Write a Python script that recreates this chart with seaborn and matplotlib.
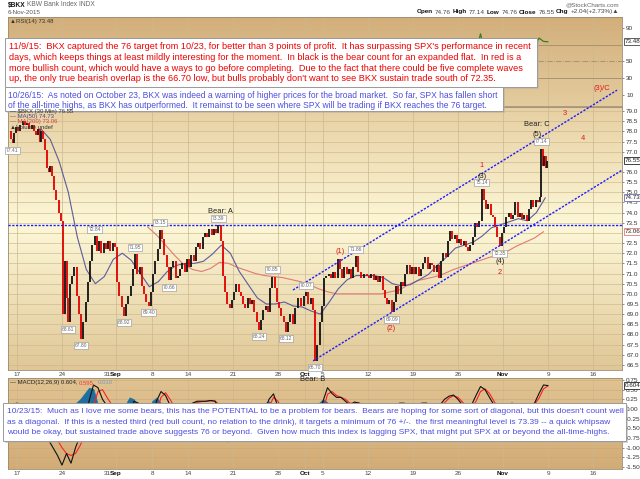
import numpy as np
import matplotlib
matplotlib.use("Agg")
import matplotlib.pyplot as plt
import matplotlib.transforms as mtransforms
from matplotlib.patches import Rectangle
import seaborn as sns

# ---------------- data ----------------
# trading-day index: 0 = Mon 17 Aug 2015 (Labor Day skipped), -1 = Fri 14 Aug
price_day_index = list(range(-1, 59))
price_bars = [
    [78.0, 77.6, 77.41, 77.9, 78.2],          # Aug 14
    [78.0, 78.3, 78.5, 78.3],                 # Aug 17
    [78.4, 78.1, 78.3, 78.0],                 # Aug 18
    [77.8, 78.1, 77.5, 78.0, 77.6],           # Aug 19
    [77.1, 76.2, 76.0, 76.3, 75.8],           # Aug 20
    [75.1, 74.6, 74.0, 73.6],                 # Aug 21
    [69.0, 71.6, 69.8, 68.61, 70.5],          # Aug 24
    [70.9, 71.3, 69.9, 69.0],                 # Aug 25
    [67.80, 68.6, 69.6, 70.6],                # Aug 26
    [71.6, 72.4, 72.84, 72.1],                # Aug 27
    [72.6, 72.0, 72.5, 72.2],                 # Aug 28
    [72.6, 72.1, 72.5, 72.3],                 # Aug 31
    [70.6, 69.9, 69.35, 68.92],               # Sep 1
    [69.5, 69.9, 70.4, 71.2],                 # Sep 2
    [71.95, 71.0, 71.3, 70.4],                # Sep 3
    [70.0, 69.6, 69.40, 70.1],                # Sep 4
    [71.0, 71.6, 72.2, 73.15],                # Sep 8
    [72.7, 71.9, 71.3, 70.66],                # Sep 9
    [71.3, 71.6, 70.8, 70.9],                 # Sep 10
    [71.2, 71.5, 71.1, 71.7],                 # Sep 11
    [71.3, 71.9, 71.6, 72.3],                 # Sep 14
    [72.5, 72.2, 72.8, 73.0],                 # Sep 15
    [72.8, 73.2, 72.9, 73.2],                 # Sep 16
    [73.0, 73.39, 72.6, 70.9],                # Sep 17
    [70.1, 69.5, 69.3, 69.7],                 # Sep 18
    [70.1, 70.5, 70.1, 69.9],                 # Sep 21
    [69.5, 69.3, 69.8, 69.5],                 # Sep 22
    [69.7, 69.1, 68.6, 68.24],                # Sep 23
    [68.7, 69.2, 69.4, 69.1],                 # Sep 24
    [70.3, 70.85, 70.3, 69.6],                # Sep 25
    [69.3, 68.9, 68.6, 68.12],                # Sep 28
    [68.6, 69.0, 68.5, 69.3],                 # Sep 29
    [69.8, 69.4, 69.9],                       # Sep 30
    [70.07, 69.5, 69.8, 69.2],                # Oct 1
    [66.70, 67.5, 68.6, 69.4],                # Oct 2
    [70.8, 70.9, 71.0, 70.8],                 # Oct 5
    [71.1, 70.8, 71.7, 71.2],                 # Oct 6
    [70.8, 71.3, 71.0, 71.2],                 # Oct 7
    [70.8, 71.3, 71.86, 71.1],                # Oct 8
    [70.8, 71.0, 70.9],                       # Oct 9
    [70.8, 71.0, 70.7, 70.9],                 # Oct 12
    [70.6, 70.9, 70.2, 69.8],                 # Oct 13
    [69.5, 69.7, 69.09, 69.6],                # Oct 14
    [70.4, 70.0, 70.6, 70.4],                 # Oct 15
    [71.0, 71.4, 71.0, 71.3],                 # Oct 16
    [71.0, 71.3, 70.9, 71.2],                 # Oct 19
    [71.5, 71.8, 71.2, 71.5],                 # Oct 20
    [71.4, 71.1, 71.4, 70.8],                 # Oct 21
    [71.6, 72.0, 71.8, 72.6],                 # Oct 22
    [73.1, 72.7, 72.9, 72.5],                 # Oct 23
    [72.7, 72.4, 72.6, 72.3],                 # Oct 26
    [72.1, 72.4, 72.8, 73.5],                 # Oct 27
    [73.3, 73.6, 75.14, 74.6],                # Oct 28
    [74.2, 74.4, 73.9, 73.8],                 # Oct 29
    [73.3, 72.8, 72.35, 73.0],                # Oct 30
    [73.3, 73.8, 74.0, 73.7],                 # Nov 2
    [73.9, 74.5, 73.8, 74.0],                 # Nov 3
    [73.7, 73.9, 73.6, 74.2],                 # Nov 4
    [74.6, 74.3, 74.6, 74.51],                # Nov 5
    [74.76, 77.14, 76.3, 76.8, 76.2, 76.55],  # Nov 6
]
pivot_values = [77.41, 68.61, 67.80, 72.84, 68.92, 71.95, 69.40, 73.15, 70.66, 73.39,
                68.24, 70.85, 68.12, 70.07, 66.70, 71.86, 69.09, 75.14, 72.35, 77.14]
pivot_kinds = ["L", "L", "L", "H", "L", "H", "L", "H", "L", "H",
               "L", "H", "L", "H", "L", "H", "L", "H", "L", "H"]

ma50_start = 2.7
ma50 = [78.1, 77.6, 76.5, 75.0, 72.8, 71.2, 70.5, 70.85, 71.7, 72.0,
        71.65, 71.0, 70.35, 70.6, 71.1, 71.4, 71.5, 71.5, 71.6, 71.95,
        72.4, 72.0, 71.1, 70.45, 69.8, 69.5, 69.5, 69.6, 69.4, 69.35,
        69.15, 69.0, 69.6, 70.25, 70.7, 70.9, 70.9, 70.9, 70.8, 70.5,
        70.4, 70.45, 70.7, 70.95, 71.4, 71.8, 72.25, 72.4, 72.55, 72.85,
        73.25, 73.4, 73.55, 73.7, 73.6, 74.0, 74.73]
ma200_start = 14.5
ma200 = [73.3, 72.9, 72.4, 71.9, 71.45, 71.2, 71.1, 71.25, 71.55, 71.5,
         71.3, 71.15, 71.0, 70.9, 70.85, 70.8, 70.7, 70.6, 70.45, 70.25,
         70.1, 70.0, 70.0, 70.0, 70.0, 70.0, 70.0, 70.1, 70.2, 70.45,
         70.65, 70.75, 70.85, 71.0, 71.2, 71.35, 71.5, 71.65, 71.8, 71.9,
         72.1, 72.35, 72.55, 72.75, 73.06]

macd_start = -1.0
macd_line = [0.10, 0.12, 0.15, 0.12, 0.10, 0.08, 0.05, 0.00, -0.30, -0.80,
             -1.00, -1.20, -1.45, -1.15, -1.40, -1.00, -0.70, -0.30, 0.20, 0.62,
             0.55, 0.25, 0.08, 0.00, -0.55, -0.78, -0.50, -0.10, 0.20, 0.15,
             -0.30, -0.50, -0.20, 0.20, 0.45, 0.35, 0.10, -0.10, -0.05, 0.05,
             0.10, 0.15, 0.20, 0.20, 0.20, 0.22, 0.20, 0.00, -0.60, -0.85,
             -0.50, -0.30, -0.20, -0.25, -0.35, -0.45, -0.30, -0.05, 0.25, 0.39,
             0.05, -0.20, -0.30, -0.25, -0.10, 0.00, -0.10, -0.50, -0.70, -0.30,
             0.20, 0.55, 0.40, 0.30, 0.30, 0.20, 0.10, 0.18, 0.15, 0.05,
             0.00, -0.05, -0.10, -0.30, -0.40, -0.20, 0.05, 0.15, 0.15, 0.10,
             0.10, 0.12, 0.15, 0.15, 0.00, -0.05, 0.10, 0.25, 0.33, 0.36,
             0.25, 0.10, -0.05, 0.10, 0.35, 0.58, 0.50, 0.30, 0.10, -0.10,
             -0.05, 0.10, 0.15, 0.10, 0.10, 0.05, 0.10, 0.15, 0.40, 0.62,
             0.604]
macd_signal = [0.12, 0.12, 0.13, 0.13, 0.12, 0.11, 0.09, 0.06, -0.05, -0.30,
               -0.55, -0.80, -1.00, -1.15, -1.20, -1.15, -0.95, -0.70, -0.35, 0.10,
               0.45, 0.50, 0.30, 0.12, -0.15, -0.50, -0.60, -0.40, -0.05, 0.12,
               0.00, -0.30, -0.40, -0.10, 0.30, 0.42, 0.25, 0.05, -0.05, 0.00,
               0.06, 0.12, 0.17, 0.19, 0.20, 0.21, 0.21, 0.10, -0.25, -0.60,
               -0.62, -0.45, -0.30, -0.25, -0.30, -0.40, -0.38, -0.20, 0.05, 0.30,
               0.20, -0.05, -0.22, -0.25, -0.18, -0.06, -0.08, -0.30, -0.55, -0.45,
               -0.05, 0.38, 0.45, 0.35, 0.30, 0.25, 0.15, 0.15, 0.16, 0.10,
               0.03, -0.02, -0.07, -0.20, -0.33, -0.28, -0.08, 0.08, 0.14, 0.12,
               0.10, 0.11, 0.13, 0.15, 0.06, -0.02, 0.03, 0.16, 0.28, 0.34,
               0.30, 0.18, 0.03, 0.03, 0.20, 0.45, 0.52, 0.40, 0.20, 0.00,
               -0.06, 0.03, 0.12, 0.12, 0.10, 0.07, 0.08, 0.12, 0.28, 0.52,
               0.595]
rsi_start = 50.0
rsi_values = [45, 55, 62, 83, 60, 52, 38, 35, 55, 60, 65, 58, 60, 58, 62, 64, 78, 74, 73.48]

tick_days = [0, 5, 10, 11, 15, 19, 24, 29, 32, 34, 39, 44, 49, 54, 59, 64]
tick_labels = ["17", "24", "31", "Sep", "8", "14", "21", "28", "Oct", "5",
               "12", "19", "26", "Nov", "9", "16"]
grid_days = [0, 5, 11, 15, 19, 24, 29, 32, 34, 39, 44, 49, 54, 59, 64]
month_labels = ["Sep", "Oct", "Nov"]

resistance_level = 73.39
upper_channel_days = [30.67, 66.67]
upper_channel_prices = [70.19, 80.03]
lower_channel_days = [32.9, 67.22]
lower_channel_prices = [66.70, 76.09]

wave_texts = ["Bear: A", "(1)", "(2)", "1", "(3)", "2", "(4)", "Bear: C", "(5)",
              "3", "4", "(3)/C", "Bear: B"]
wave_days = [22.6, 35.9, 41.6, 51.6, 51.7, 53.6, 53.7, 57.8, 57.8, 60.9, 62.9, 65.0, 32.9]
wave_prices = [74.03, 72.1, 68.3, 76.3, 75.78, 71.05, 71.6, 78.33, 77.83, 78.9, 77.67, 80.13, 65.8]
wave_red = [False, True, True, True, False, True, False, False, False, True, True, True, False]

note_1109 = [
    "11/9/15:  BKX captured the 76 target from 10/23, for better than 3 points of profit.  It has surpassing SPX's performance in recent",
    "days, which keeps things at least mildly interesting for the moment.  In black is the bear count for an expanded flat.  In red is a",
    "more bullish count, which would have a ways to go before completing.  Due to the fact that there could be five complete waves",
    "up, the only true bearish overlap is the 66.70 low, but bulls probably don't want to see BKX sustain trade south of 72.35.",
]
note_1026 = [
    "10/26/15:  As noted on October 23, BKX was indeed a warning of higher prices for the broad market.  So far, SPX has fallen short",
    "of the all-time highs, as BKX has outperformed.  It remainst to be seen where SPX will be trading if BKX reaches the 76 target.",
]
note_1023 = [
    "10/23/15:  Much as I love me some bears, this has the POTENTIAL to be a problem for bears.  Bears are hoping for some sort of diagonal, but this doesn't count well",
    "as a diagonal.  If this is a nested third (red bull count, no relation to the drink), it targets a minimum of 76 +/-.  the first meaningful level is 73.39 -- a quick whipsaw",
    "would be okay, but sustained trade above suggests 76 or beyond.  Given how much this index is lagging SPX, that might put SPX at or beyond the all-time-highs.",
]

# ---------------- figure ----------------
sns.set_theme(style="white")
plt.rcParams['font.family'] = ['Liberation Sans', 'DejaVu Sans']

W, H = 640, 479
fig = plt.figure(figsize=(6.4, 4.79), dpi=100, facecolor="white")
renderer = fig.canvas.get_renderer()


def fx(px):
    return px / W


def fy(py):
    return 1 - py / H


X0, X1 = 8, 622
XMIN, XMAX = -1.0, 67.22
ax_rsi = fig.add_axes([fx(X0), fy(106), (X1 - X0) / W, (106 - 17) / H])
ax_p = fig.add_axes([fx(X0), fy(370), (X1 - X0) / W, (370 - 107) / H])
ax_m = fig.add_axes([fx(X0), fy(469), (X1 - X0) / W, (469 - 378) / H])

RSI_LIM = (-3.1, 103.1)
P_LIM = (66.25, 79.2)
M_LIM = (-1.55, 0.80)


def gradient(ax, stops, ylim):
    ys = np.linspace(0, 1, 200)
    pos = [s[0] for s in stops]
    cols = np.array([s[1] for s in stops], dtype=float) / 255
    img = np.stack([np.interp(ys, pos, cols[:, k]) for k in range(3)], axis=-1)[:, None, :]
    ax.imshow(img, extent=(XMIN, XMAX, ylim[0], ylim[1]), origin="lower",
              aspect="auto", zorder=0, interpolation="bilinear")
    ax.set_xlim(XMIN, XMAX)
    ax.set_ylim(*ylim)


gradient(ax_rsi, [(0, (228, 204, 158)), (1, (210, 174, 122))], RSI_LIM)
gradient(ax_p, [(0, (224, 199, 150)), (0.55, (253, 248, 216)), (1, (231, 208, 162))], P_LIM)
gradient(ax_m, [(0, (211, 172, 118)), (1, (224, 195, 146))], M_LIM)

grid_c = (0.80, 0.72, 0.56)
for ax, lim in [(ax_rsi, RSI_LIM), (ax_p, P_LIM), (ax_m, M_LIM)]:
    ax.vlines(grid_days, lim[0], lim[1], color=grid_c, lw=0.5, zorder=1)
    for sp in ax.spines.values():
        sp.set_color("#9c8a6c")
        sp.set_linewidth(0.6)
    ax.yaxis.tick_right()
    ax.tick_params(axis="y", labelsize=4.6, colors="#333333", pad=1.5, length=1.5, width=0.4)
    ax.tick_params(axis="x", labelsize=4.6, colors="#444444", pad=1.2, length=0)

# ---- RSI panel ----
ax_rsi.hlines([70, 30], XMIN, XMAX, color=(0.62, 0.55, 0.42), lw=0.6, zorder=1)
ax_rsi.hlines([50], XMIN, XMAX, color=(0.62, 0.55, 0.42), lw=0.6, ls="-.", zorder=1)
rsi_days = rsi_start + 0.5 * np.arange(len(rsi_values))
sns.lineplot(x=rsi_days, y=rsi_values, ax=ax_rsi, color="#3b7a26", lw=0.9, zorder=3, legend=False)
ax_rsi.set_yticks([10, 30, 50, 90])
ax_rsi.set_yticklabels(["10", "30", "50", "90"])
ax_rsi.set_xticks([])
ax_rsi.set_xlim(XMIN, XMAX)
ax_rsi.set_ylim(*RSI_LIM)

# ---- price panel ----
hl = np.arange(66.5, 79.51, 0.5)
ax_p.hlines(hl, XMIN, XMAX, color=grid_c, lw=0.45, zorder=1)

xs, ps = [], []
for d, vals in zip(price_day_index, price_bars):
    n = len(vals)
    for j, v in enumerate(vals):
        xs.append(d + (j + 0.5) / n)
        ps.append(v)
xs = np.array(xs)
ps = np.array(ps)

ma50_days = ma50_start + np.arange(len(ma50))
ma200_days = ma200_start + np.arange(len(ma200))
sns.lineplot(x=ma200_days, y=ma200, ax=ax_p, color="#e07a74", lw=0.8, zorder=3, legend=False)
sns.lineplot(x=ma50_days, y=ma50, ax=ax_p, color="#5c5c9c", lw=0.8, zorder=3, legend=False)

lo = np.minimum(ps[:-1], ps[1:])
hi = np.maximum(ps[:-1], ps[1:])
cols = np.where(ps[1:] >= ps[:-1], "#111111", "#e00000")
ax_p.vlines(xs[1:], lo, hi, colors=cols, lw=1.3, zorder=4)

line_kw = dict(color="#1c1cff", lw=1.0, dashes=(1.6, 1.1), zorder=5, clip_on=False)
ax_p.plot([XMIN, XMAX], [resistance_level, resistance_level], **dict(line_kw, clip_on=True))
ax_p.plot(upper_channel_days, upper_channel_prices, **line_kw)
ax_p.plot(lower_channel_days, lower_channel_prices, **dict(line_kw, clip_on=True))

for v, k in zip(pivot_values, pivot_kinds):
    i = int(np.argmax(np.isclose(ps, v)))
    ax_p.annotate(f"{v:.2f}", (xs[i], v), xytext=(0, 3.2 if k == "H" else -3.2),
                  textcoords="offset points", ha="center",
                  va="bottom" if k == "H" else "top", fontsize=3.6, color="#666666",
                  bbox=dict(boxstyle="square,pad=0.2", fc="white", ec="#a0a0a0", lw=0.5),
                  zorder=6)

boxed_price = [76.55, 74.73, 73.06]
pticks = [t for t in np.arange(66.5, 79.01, 0.5) if all(abs(t - b) > 0.2 for b in boxed_price)]
ax_p.set_yticks(pticks)
ax_p.set_yticklabels([f"{t:.1f}" for t in pticks])
ax_p.set_xticks(tick_days)
ax_p.set_xticklabels(tick_labels)
ax_p.set_xlim(XMIN, XMAX)
ax_p.set_ylim(*P_LIM)

# ---- MACD panel ----
ax_m.hlines(np.arange(-1.5, 0.76, 0.25), XMIN, XMAX, color=(0.78, 0.66, 0.48), lw=0.4, zorder=1)
mdays = macd_start + 0.5 * np.arange(len(macd_line))
hist = np.array(macd_line) - np.array(macd_signal)
ax_m.fill_between(mdays, 0, hist, color="#1f6f9e", lw=0.4, zorder=2)
sns.lineplot(x=mdays, y=macd_signal, ax=ax_m, color="#ff2020", lw=0.8, zorder=3, legend=False)
sns.lineplot(x=mdays, y=macd_line, ax=ax_m, color="#111111", lw=0.8, zorder=4, legend=False)
mticks = [0.75, 0.50, 0.25, 0.0, -0.25, -0.50, -0.75, -1.00, -1.25, -1.50]
ax_m.set_yticks(mticks)
ax_m.set_yticklabels([f"{t:.2f}" for t in mticks])
ax_m.set_xticks(tick_days)
ax_m.set_xticklabels(tick_labels)
ax_m.set_xlim(XMIN, XMAX)
ax_m.set_ylim(*M_LIM)

for ax in (ax_p, ax_m):
    for lab in ax.get_xticklabels():
        if lab.get_text() in month_labels:
            lab.set_fontweight("bold")
            lab.set_color("#111111")


# boxed current values on the right axes
def value_box(ax, v, text, ec):
    tr = mtransforms.blended_transform_factory(ax.transAxes, ax.transData)
    ax.text(1.004, v, text, transform=tr, ha="left", va="center", fontsize=4.5,
            color="#222222", clip_on=False, zorder=7,
            bbox=dict(boxstyle="square,pad=0.15", fc="white", ec=ec, lw=0.6))


value_box(ax_p, 76.55, "76.55", "#222222")
value_box(ax_p, 74.73, "74.73", "#6c6cae")
value_box(ax_p, 73.06, "73.06", "#e07a74")
value_box(ax_rsi, 73.48, "73.48", "#444444")
value_box(ax_m, 0.604, "0.604", "#222222")

# wave labels (figure-level so they may sit outside the panel)
for s, d, p, red in zip(wave_texts, wave_days, wave_prices, wave_red):
    fig.text(d, p, s, transform=ax_p.transData, ha="center", va="center",
             fontsize=5.4, color="#e01818" if red else "#222222", zorder=3)


# ---------------- text runs helper ----------------
def draw_runs(x_px, y_px, parts, size, align="left"):
    sp = 0.28 * size * 100 / 72
    objs = []
    x = 0.0
    for k, (s, c, wgt) in enumerate(parts):
        if k > 0:
            x += sp
        t = fig.text(0, fy(y_px), s, fontsize=size, color=c, fontweight=wgt,
                     va="center", ha="left", zorder=4)
        w = t.get_window_extent(renderer).width
        objs.append((t, x))
        x += w
    start = x_px if align == "left" else x_px - x
    for t, off in objs:
        t.set_x((start + off) / W)


# header
draw_runs(8, 5, [("$BKX", "#111111", "bold"), ("KBW Bank Index INDX", "#666666", "normal")], 4.8)
draw_runs(8, 12, [("6-Nov-2015", "#555555", "normal")], 4.5)
draw_runs(619, 5, [("@StockCharts.com", "#666666", "normal")], 4.5, align="right")
draw_runs(619, 12, [("Open", "#111111", "bold"), ("74.76", "#444444", "normal"),
                    ("High", "#111111", "bold"), ("77.14", "#444444", "normal"),
                    ("Low", "#111111", "bold"), ("74.76", "#444444", "normal"),
                    ("Close", "#111111", "bold"), ("76.55", "#444444", "normal"),
                    ("Chg", "#111111", "bold"), ("+2.04(+2.73%)\u25B2", "#444444", "normal")],
          4.6, align="right")

# panel legends
draw_runs(10, 21, [("\u25B2RSI(14) 73.48", "#333333", "normal")], 4.3)
draw_runs(10, 111, [("\u2014 $BKX (30 Min) 76.55", "#333333", "normal")], 4.3)
draw_runs(10, 116.5, [("\u2014 MA(50) 74.73", "#4a4a8a", "normal")], 4.3)
draw_runs(10, 122, [("\u2014 MA(200) 73.06", "#d04040", "normal")], 4.3)
draw_runs(10, 127.5, [("\u25B2Volume undef", "#333333", "normal")], 4.3)
draw_runs(10, 382.5, [("\u2014 MACD(12,26,9) 0.604,", "#222222", "normal"),
                      ("0.595,", "#ff3030", "normal"), ("0.010", "#7a9ab8", "normal")], 4.3)


# ---------------- annotation boxes ----------------
def text_box(x0, y0, x1, y1, lines, line_y, tx, right, color):
    fig.patches.append(Rectangle((fx(x0 + 1.5), fy(y1 + 1.5)), (x1 - x0) / W, (y1 - y0) / H,
                                 transform=fig.transFigure, fc="#b8b0a0", ec="none",
                                 alpha=0.55, zorder=1))
    fig.patches.append(Rectangle((fx(x0), fy(y1)), (x1 - x0) / W, (y1 - y0) / H,
                                 transform=fig.transFigure, fc="white", ec="#9a9a9a",
                                 lw=0.7, zorder=1.1))
    probe = fig.text(0, 0, lines[0], fontsize=10)
    w = probe.get_window_extent(renderer).width
    probe.remove()
    size = 10 * (right - tx) / w
    for s, yy in zip(lines, line_y):
        fig.text(fx(tx), fy(yy), s, fontsize=size, color=color, va="center",
                 ha="left", zorder=3)


text_box(5, 38, 537, 87, note_1109, [46.5, 57.3, 68.1, 78.9], 9, 529, "#ee0000")
text_box(5, 87, 503, 111, note_1026, [95.5, 105.5], 8, 497, "#4d4de0")
text_box(3, 403, 626, 441, note_1023, [411.5, 422, 432.5], 7, 622, "#4d4de0")

fig.savefig("out.png", dpi=100, facecolor="white")
